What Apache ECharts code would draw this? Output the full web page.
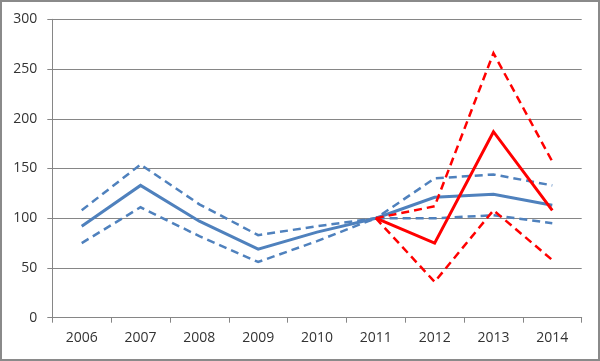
<!DOCTYPE html>
<html><head><meta charset="utf-8">
<script src="https://cdn.jsdelivr.net/npm/echarts@6/dist/echarts.min.js"></script>
<style>
html,body{margin:0;padding:0;background:#fff;}
#c{width:600px;height:361px;box-sizing:border-box;border:2px solid #8a8a8a;}
</style></head><body>
<div id="c"></div>
<script>
var years = ['2006','2007','2008','2009','2010','2011','2012','2013','2014'];
var blueMid   = [92, 133, 97, 69, 86, 100, 121, 124, 113];
var blueHigh  = [108, 154, 114, 83, 92, 100, 140, 144, 133];
var blueLow   = [75, 111, 82, 56, 77, 100, 100, 103, 95];
var redMid    = [null, null, null, null, null, 100, 75, 187, 108];
var redHigh   = [null, null, null, null, null, 100, 112, 266, 157];
var redLow    = [null, null, null, null, null, 100, 36, 108, 58];
var yTicks = [0, 50, 100, 150, 200, 250, 300];

var BLUE = '#4f81bd', RED = '#ff0000';
function s(data, color, dashed){
  return {type:'line', data:data, symbol:'none', connectNulls:false, animation:false,
    lineStyle:{color:color, width: dashed?2.5:3, type: dashed?[8,5]:'solid', cap:'butt', join:'miter'}};
}
var chart = echarts.init(document.getElementById('c'), null, {renderer:'canvas'});
chart.setOption({
  animation:false,
  grid:{left:50.3, right:16.3, top:17.3, bottom:41.3},
  xAxis:{type:'category', data:years, boundaryGap:true,
    axisLine:{lineStyle:{color:'#868686', width:1}},
    axisTick:{show:true, length:5, lineStyle:{color:'#868686'}},
    axisLabel:{color:'#333333', fontFamily:'Open Sans', fontSize:14, margin:13}},
  yAxis:{type:'value', min:yTicks[0], max:yTicks[yTicks.length-1], interval:50,
    axisLine:{show:true, lineStyle:{color:'#868686', width:1}},
    axisTick:{show:true, length:5, lineStyle:{color:'#868686'}},
    splitLine:{lineStyle:{color:'#868686', width:1}},
    axisLabel:{color:'#333333', fontFamily:'Open Sans', fontSize:14, margin:15}},
  series:[
    s(blueHigh, BLUE, true), s(blueLow, BLUE, true), s(blueMid, BLUE, false),
    s(redHigh, RED, true), s(redLow, RED, true), s(redMid, RED, false)
  ]
});
</script></body></html>
